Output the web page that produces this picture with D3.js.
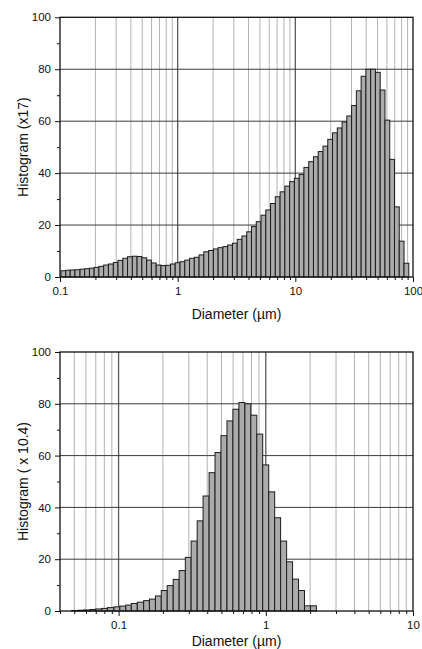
<!DOCTYPE html>
<html>
<head>
<meta charset="utf-8">
<script src="https://d3js.org/d3.v7.min.js"></script>
<style>
    body { margin: 0; background: #fff; }
    svg text { font-family: "Liberation Sans", Arial, sans-serif; fill: #111; }
</style>
</head>
<body>
<div class="chart"></div>
<script>
    // channel lower edges (um), shared by both histograms
    let binEdges = [
        0.040, 0.044, 0.048, 0.053, 0.058, 0.064, 0.070, 0.077, 0.084, 0.093,
        0.102, 0.112, 0.122, 0.134, 0.148, 0.162, 0.178, 0.195, 0.214, 0.235,
        0.258, 0.284, 0.311, 0.342, 0.375, 0.412, 0.452, 0.496, 0.545, 0.598,
        0.657, 0.721, 0.791, 0.869, 0.953, 1.047, 1.149, 1.261, 1.385, 1.520,
        1.669, 1.832, 2.011, 2.208, 2.423, 2.660, 2.920, 3.206, 3.519, 3.863,
        4.240, 4.655, 5.110, 5.610, 6.158, 6.760, 7.421, 8.147, 8.943, 9.817,
        10.78, 11.83, 12.99, 14.26, 15.65, 17.18, 18.86, 20.70, 22.73, 24.95,
        27.39, 30.07, 33.01, 36.24, 39.78, 43.67, 47.94, 52.62, 57.77, 63.41,
        69.61, 76.42, 83.89, 92.09, 101.1
    ];

    // top histogram, first bar starts at binEdges[topStart]
    let topStart = 10;
    let topValues = [
        2.4, 2.6, 2.7, 2.8, 3.0, 3.2, 3.4, 3.7, 4.1, 4.6,
        5.0, 5.6, 6.4, 7.2, 7.8, 8.0, 7.9, 7.4, 6.5, 5.4,
        4.6, 4.4, 4.5, 5.0, 5.5, 5.9, 6.5, 7.2, 7.6, 8.5,
        9.7, 10.2, 10.8, 11.3, 11.7, 12.3, 13.0, 14.5, 15.8, 17.4,
        19.4, 21.3, 23.8, 25.8, 28.3, 30.9, 32.8, 35.0, 36.7, 38.0,
        39.5, 42.2, 44.4, 46.3, 48.3, 50.4, 53.0, 55.5, 57.4, 59.7,
        62.0, 66.0, 71.7, 77.3, 80.0, 80.0, 78.8, 72.0, 60.4, 45.3,
        27.0, 13.8, 5.3
    ];

    // bottom histogram
    let bottomStart = 2;
    let bottomValues = [
        0.2, 0.3, 0.4, 0.6, 0.8, 1.0, 1.3, 1.6,
        1.9, 2.3, 2.9, 3.4, 4.0, 4.6, 5.8, 7.9, 9.8, 12.2,
        15.6, 20.7, 27.0, 34.8, 44.4, 53.4, 61.2, 67.7, 73.4, 77.9,
        80.5, 80.0, 75.6, 68.3, 56.4, 46.0, 36.0, 27.0, 19.0, 12.3,
        7.9, 2.0, 2.0
    ];

    let yMajor = [0, 20, 40, 60, 80, 100];
    let yMinor = [10, 30, 50, 70, 90];
    let topXDomain = [0.1, 100];
    let bottomXDomain = [0.04, 10];
    let topXLabels = ["0.1", "1", "10", "100"];
    let bottomXLabels = ["0.1", "1", "10"];
    let topYTitle = "Histogram (x17)";
    let bottomYTitle = "Histogram ( x 10.4)";
    let xTitle = "Diameter (\u00b5m)";

    let width = 422;
    let height = 649;
    let left = 60;
    let right = 413;

    let svg = d3.select('.chart')
        .append('svg')
        .attr("width", width)
        .attr("height", height);

    function isDecade(v) {
        let l = Math.log10(v);
        return Math.abs(l - Math.round(l)) < 1e-6;
    }

    function drawPanel(top, bottom, domain, labels, start, values, yTitle, titleGap) {
        let g = svg.append("g");

        let x = d3.scaleLog().domain(domain).range([left, right]);
        let y = d3.scaleLinear().domain([0, 100]).range([bottom, top]);

        let xt = x.ticks();
        let decades = xt.filter(isDecade);

        // vertical grid
        g.append("g")
            .selectAll("line")
            .data(xt.filter(v => x(v) > left + 0.5 && x(v) < right - 0.5))
            .enter()
            .append("line")
            .attr("x1", d => x(d)).attr("x2", d => x(d))
            .attr("y1", top).attr("y2", bottom)
            .style("stroke", d => isDecade(d) ? "#5a5a5a" : "#b2b2b2")
            .style("stroke-width", d => isDecade(d) ? 1.3 : 1);

        // horizontal grid
        g.append("g")
            .selectAll("line")
            .data(yMajor.filter(v => v > 0 && v < 100))
            .enter()
            .append("line")
            .attr("x1", left).attr("x2", right)
            .attr("y1", d => y(d)).attr("y2", d => y(d))
            .style("stroke", "#3a3a3a")
            .style("stroke-width", 1);

        // bars
        g.append("g")
            .selectAll("rect")
            .data(values)
            .enter()
            .append("rect")
            .attr("x", (d, i) => x(binEdges[start + i]))
            .attr("width", (d, i) => x(binEdges[start + i + 1]) - x(binEdges[start + i]))
            .attr("y", d => y(d))
            .attr("height", d => y(0) - y(d))
            .style("fill", "#ababab")
            .style("stroke", "#1c1c1c")
            .style("stroke-width", 1);

        // y axis
        let yAxis = g.append("g")
            .attr("transform", "translate(" + left + ",0)")
            .call(d3.axisLeft(y)
                .tickValues(yMajor.concat(yMinor))
                .tickSize(5)
                .tickPadding(4)
                .tickFormat(d => yMajor.includes(d) ? d : ""));
        yAxis.select(".domain").remove();
        yAxis.selectAll(".tick line")
            .attr("x2", d => yMajor.includes(d) ? -5 : -3)
            .style("stroke", "#111");
        yAxis.selectAll(".tick text").style("font-size", "11.5px");

        // x axis
        let xAxis = g.append("g")
            .attr("transform", "translate(0," + bottom + ")")
            .call(d3.axisBottom(x)
                .tickValues(xt)
                .tickSize(5)
                .tickPadding(4.5)
                .tickFormat(d => {
                    let k = decades.indexOf(d);
                    return k >= 0 && k < labels.length ? labels[k] : "";
                }));
        xAxis.select(".domain").remove();
        xAxis.selectAll(".tick line")
            .attr("y2", d => isDecade(d) ? 5 : 3)
            .style("stroke", "#111");
        xAxis.selectAll(".tick text").style("font-size", "11.5px");

        // frame
        g.append("rect")
            .attr("x", left).attr("y", top)
            .attr("width", right - left).attr("height", bottom - top)
            .style("fill", "none")
            .style("stroke", "#111")
            .style("stroke-width", 1.3);

        g.append("text")
            .attr("x", (left + right) / 2)
            .attr("y", bottom + titleGap)
            .style("text-anchor", "middle")
            .style("font-size", "14px")
            .text(xTitle);

        g.append("text")
            .attr("transform", "translate(28," + ((top + bottom) / 2) + ") rotate(-90)")
            .style("text-anchor", "middle")
            .style("font-size", "14px")
            .text(yTitle);
    }

    drawPanel(17.3, 277, topXDomain, topXLabels, topStart, topValues, topYTitle, 42);
    drawPanel(352, 611, bottomXDomain, bottomXLabels, bottomStart, bottomValues, bottomYTitle, 34.5);
</script>
</body>
</html>
